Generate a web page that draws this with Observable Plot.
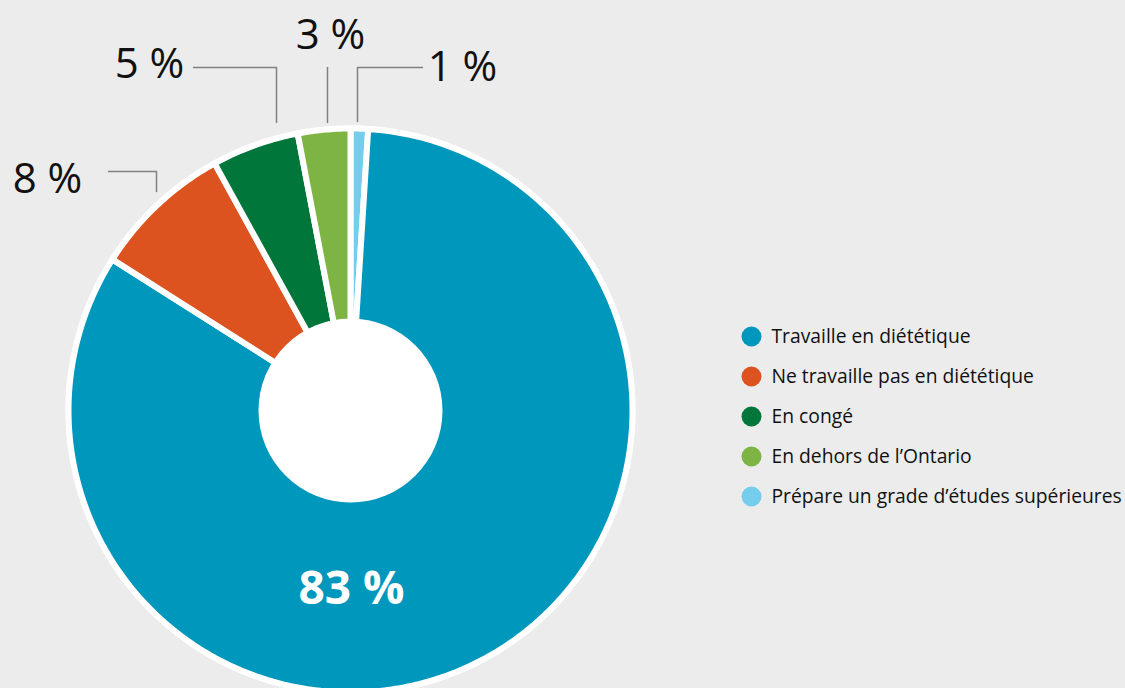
<!DOCTYPE html>
<html><head><meta charset="utf-8">
<script src="https://cdn.jsdelivr.net/npm/d3@7"></script>
<script src="https://cdn.jsdelivr.net/npm/@observablehq/plot@0.6"></script>
<style>html,body{margin:0;padding:0;background:#ececec;overflow:hidden}</style>
</head><body><div id="chart"></div>
<script>
// ---- data ----
const categories = ["Travaille en diététique", "Ne travaille pas en diététique", "En congé", "En dehors de l’Ontario", "Prépare un grade d’études supérieures"];
const values = [83, 8, 5, 3, 1];
const valueLabels = ["83 %", "8 %", "5 %", "3 %", "1 %"];
const colors = ["#0097bd", "#dc5320", "#00763a", "#7db443", "#74cdec"];
// clockwise order of the slices, starting at 12 o'clock
const drawOrder = [4, 0, 1, 2, 3];

// ---- layout ----
const W = 1125, H = 688;
const PIE = {cx: 350, cy: 410, r: 282, hole: 92, gap: 6};
const LEGEND = {x: 751, y: 336, dy: 40, dx: 20, r: 10, fontSize: 19.3};
const LABELS = [
  {i: 0, x: 351, y: 603, inside: true},
  {i: 1, x: 47, y: 192, line: [[108, 171], [156, 171], [156, 191]]},
  {i: 2, x: 149, y: 77, line: [[193, 67], [276, 67], [276, 122]]},
  {i: 3, x: 330, y: 48, line: [[327, 67], [327, 122]]},
  {i: 4, x: 462, y: 80, line: [[422, 67], [357, 67], [357, 121]]}
];

// ---- slice geometry from the values ----
const arcs = d3.pie().sort(null).value(i => values[i])(drawOrder);
const slicePts = arcs.flatMap(a => {
  const name = categories[a.data];
  const n = Math.max(2, Math.ceil((a.endAngle - a.startAngle) / 0.01));
  const pts = [{name, x: PIE.cx, y: PIE.cy}];
  for (let k = 0; k <= n; k++) {
    const t = a.startAngle + (a.endAngle - a.startAngle) * k / n;
    pts.push({name, x: PIE.cx + PIE.r * Math.sin(t), y: PIE.cy - PIE.r * Math.cos(t)});
  }
  return pts;
});

const leader = LABELS.filter(d => d.line).flatMap(d => d.line.map(([x, y]) => ({k: d.i, x, y})));
const outside = LABELS.filter(d => !d.inside).map(d => ({...d, label: valueLabels[d.i]}));
const inside = LABELS.filter(d => d.inside).map(d => ({...d, label: valueLabels[d.i]}));
const legendRows = categories.map((c, i) => ({name: c, x: LEGEND.x, y: LEGEND.y + i * LEGEND.dy}));

const chart = Plot.plot({
  width: W, height: H,
  margin: 0,
  x: {domain: [0, W], range: [0, W], axis: null},
  y: {domain: [0, H], range: [0, H], axis: null},
  color: {domain: categories, range: colors},
  style: {background: "#ececec", fontFamily: "'Open Sans', sans-serif", overflow: "visible"},
  marks: [
    Plot.dot([{x: PIE.cx, y: PIE.cy}], {x: "x", y: "y", r: PIE.r + PIE.gap / 2, fill: "white", stroke: "none"}),
    Plot.line(slicePts, {x: "x", y: "y", z: "name", fill: "name", stroke: "white", strokeWidth: PIE.gap, curve: "linear-closed", strokeLinejoin: "round"}),
    Plot.dot([{x: PIE.cx, y: PIE.cy}], {x: "x", y: "y", r: PIE.hole, fill: "white", stroke: "none"}),
    Plot.line(leader, {x: "x", y: "y", z: "k", stroke: "#7f7f7f", strokeWidth: 1.5, curve: "linear"}),
    Plot.text(outside, {x: "x", y: "y", text: "label", fontSize: 42, fontWeight: 500, lineAnchor: "bottom", fill: "#111"}),
    Plot.text(inside, {x: "x", y: "y", text: "label", fontSize: 46, fontWeight: "bold", lineAnchor: "bottom", fill: "white"}),
    Plot.dot(legendRows, {x: "x", y: "y", r: LEGEND.r, fill: "name", stroke: "none"}),
    Plot.text(legendRows, {x: d => d.x + LEGEND.dx, y: "y", text: "name", textAnchor: "start", fontSize: LEGEND.fontSize, fill: "#111"})
  ]
});
document.getElementById("chart").appendChild(chart);
</script>
</body></html>
